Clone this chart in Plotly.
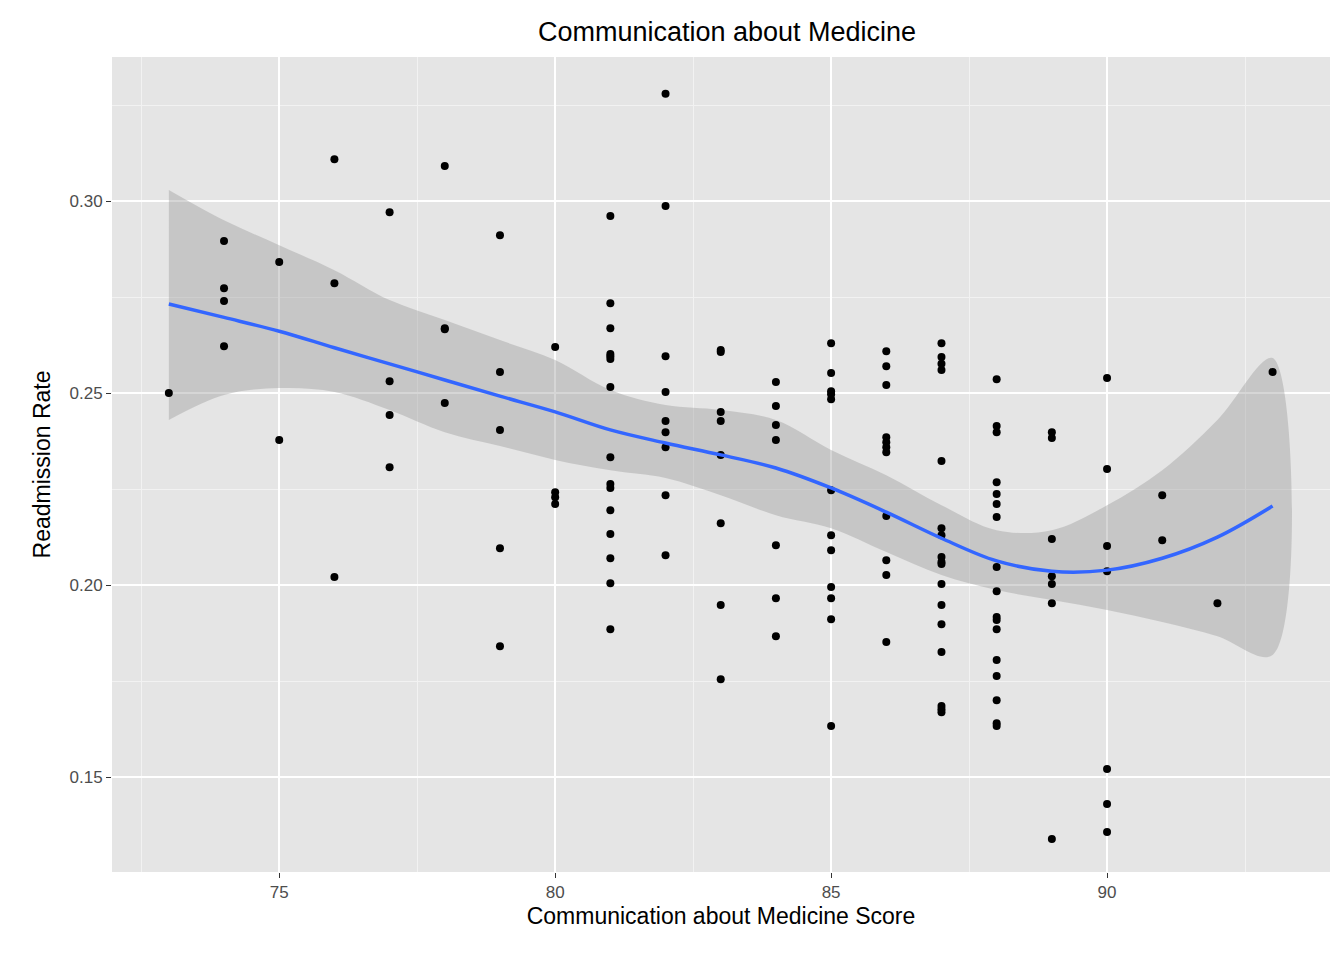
import plotly.graph_objects as go

# scatter data: (score, readmission rates)
pts = {
    73: [0.25],
    74: [0.2896, 0.2773, 0.274, 0.2622],
    75: [0.2841, 0.2378],
    76: [0.3109, 0.2786, 0.2021],
    77: [0.2971, 0.2531, 0.2443, 0.2307],
    78: [0.3091, 0.2669, 0.2666, 0.2474],
    79: [0.2911, 0.2555, 0.2404, 0.2096, 0.1841],
    80: [0.262, 0.2242, 0.2229, 0.2211],
    81: [0.2961, 0.2734, 0.2669, 0.2602, 0.2596, 0.2589, 0.2516, 0.2333,
         0.2263, 0.2253, 0.2195, 0.2133, 0.207, 0.2005, 0.1885],
    82: [0.3279, 0.2987, 0.2596, 0.2503, 0.2427, 0.2398, 0.2359, 0.2234, 0.2078],
    83: [0.2612, 0.2607, 0.2451, 0.2427, 0.2339, 0.2161, 0.1948, 0.1755],
    84: [0.2529, 0.2466, 0.2417, 0.2378, 0.2104, 0.1966, 0.1867],
    85: [0.263, 0.2552, 0.2505, 0.2497, 0.2484, 0.2247, 0.213, 0.2091,
         0.1995, 0.1966, 0.1911, 0.1633],
    86: [0.2609, 0.257, 0.2521, 0.2385, 0.2372, 0.2359, 0.2346, 0.218,
         0.2065, 0.2026, 0.1852],
    87: [0.263, 0.2594, 0.2576, 0.256, 0.2323, 0.2148, 0.213, 0.2073, 0.206,
         0.2055, 0.2003, 0.1948, 0.1898, 0.1826, 0.1685, 0.1677, 0.1669],
    88: [0.2536, 0.2414, 0.2398, 0.2268, 0.2237, 0.2211, 0.2177, 0.2047,
         0.1984, 0.1917, 0.1909, 0.1885, 0.1805, 0.1763, 0.17, 0.164, 0.1633],
    89: [0.2398, 0.2383, 0.212, 0.2023, 0.2003, 0.1953, 0.1339],
    90: [0.2539, 0.2302, 0.2102, 0.2036, 0.1521, 0.143, 0.1357],
    91: [0.2234, 0.2117],
    92: [0.1953],
    93: [0.2555],
}
xs = [x for x, ys in pts.items() for _ in ys]
ys = [y for ys in pts.values() for y in ys]

# loess fit and confidence band
fit_x = [73, 74, 75, 76, 77, 78, 79, 80, 81, 82, 83, 84, 85, 86, 87, 88, 89, 90, 91, 92, 93]
fit_y = [0.2732, 0.2697, 0.2661, 0.2618, 0.2576, 0.2534, 0.2492, 0.2451, 0.2404, 0.237,
         0.2339, 0.2305, 0.2253, 0.219, 0.2122, 0.2063, 0.2036, 0.2039, 0.207, 0.2125, 0.2206]
upper = [0.3029, 0.295, 0.2885, 0.282, 0.2742, 0.269, 0.2638, 0.2586, 0.2508, 0.2469,
         0.2456, 0.243, 0.2352, 0.2286, 0.2208, 0.2143, 0.2143, 0.2208, 0.2299, 0.243, 0.2591]
lower = [0.243, 0.2495, 0.2513, 0.2503, 0.2456, 0.2398, 0.2362, 0.2326, 0.2299, 0.2279,
         0.2234, 0.2182, 0.2148, 0.2086, 0.2026, 0.1987, 0.1961, 0.1935, 0.1904, 0.1867, 0.1818]

fig = go.Figure()
fig.add_trace(go.Scatter(x=fit_x + fit_x[::-1], y=upper + lower[::-1], fill="toself",
                         fillcolor="rgba(153,153,153,0.4)", line=dict(width=0),
                         line_shape="spline", mode="lines", hoverinfo="skip"))
fig.add_trace(go.Scatter(x=xs, y=ys, mode="markers",
                         marker=dict(color="black", size=8)))
fig.add_trace(go.Scatter(x=fit_x, y=fit_y, mode="lines", line_shape="spline",
                         line=dict(color="#3366FF", width=3.5)))

axis = dict(showline=False, zeroline=False, gridcolor="white", gridwidth=2,
            ticks="outside", ticklen=5, tickcolor="#333333",
            tickfont=dict(size=17, color="#4d4d4d"),
            minor=dict(showgrid=True, gridcolor="#f2f2f2", gridwidth=1))
fig.update_xaxes(axis, range=[71.97, 94.04], tickvals=[75, 80, 85, 90],
                 minor_dtick=2.5, minor_tick0=72.5,
                 title=dict(text="Communication about Medicine Score", font=dict(size=23), standoff=6))
fig.update_yaxes(axis, range=[0.1253, 0.3375], tickvals=[0.15, 0.2, 0.25, 0.3],
                 ticktext=["0.15", "0.20", "0.25", "0.30"],
                 minor_dtick=0.05, minor_tick0=0.125,
                 title=dict(text="Readmission Rate", font=dict(size=23), standoff=12))
fig.update_layout(
    width=1344, height=960, showlegend=False,
    font=dict(family="Liberation Sans, Arial, sans-serif", color="black"),
    title=dict(text="Communication about Medicine", x=0.535, xanchor="center",
               y=0.985, yanchor="top", font=dict(size=27)),
    plot_bgcolor="#e5e5e5", paper_bgcolor="white",
    margin=dict(l=104, r=22, t=49, b=96, autoexpand=False),
)
fig.write_html("out.html")
